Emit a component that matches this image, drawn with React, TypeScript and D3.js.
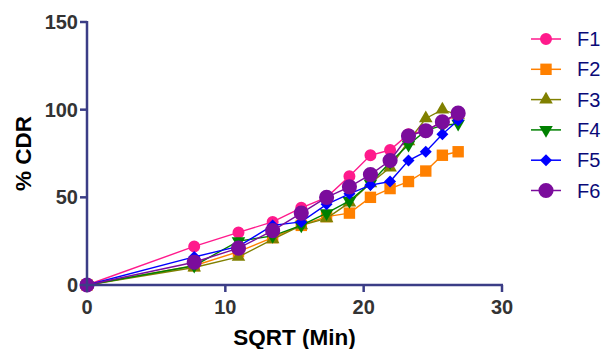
import * as d3 from 'd3'

const sqrtTime = [0, 7.75, 10.95, 13.42, 15.49, 17.32, 18.97, 20.49, 21.91, 23.24, 24.49, 25.69, 26.83]
const seriesNames = ['F1', 'F2', 'F3', 'F4', 'F5', 'F6']
const f1 = [0, 22, 30, 36, 44, 50, 62, 74, 77, 86, 88, 93, 97]
const f2 = [0, 11, 19, 27, 34, 39, 41, 50, 55, 59, 65, 74, 76]
const f3 = [0, 10, 16, 26, 34, 38, 47, 58, 67, 82, 95, 100, 97]
const f4 = [0, 11, 25, 28, 34, 41, 48, 58, 70, 80, 88, 91, 92]
const f5 = [0, 16, 22, 34, 36, 46, 52, 57, 59, 71, 76, 86, 94]
const f6 = [0, 13, 21, 31, 41, 50, 56, 63, 71, 85, 88, 93, 98]
const xTicks = [0, 10, 20, 30]
const yTicks = [0, 50, 100, 150]

const seriesValues = [f1, f2, f3, f4, f5, f6]
const colors = ['#ff1a8c', '#ff8000', '#808000', '#008000', '#0000ff', '#7b0c9c']

const width = 605
const height = 349
const margin = { top: 22, right: 103, bottom: 64, left: 87 }
const axisColor = '#3b3d86'

// marker for each series: circle, square, triangle, triangle down, diamond, big circle
const markers = [
  { type: d3.symbolCircle, size: 113, rotate: 0 },
  { type: d3.symbolSquare, size: 130, rotate: 0 },
  { type: d3.symbolTriangle, size: 80, rotate: 0 },
  { type: d3.symbolTriangle, size: 80, rotate: 180 },
  { type: d3.symbolSquare, size: 72, rotate: 45 },
  { type: d3.symbolCircle, size: 180, rotate: 0 },
]

export default function App() {
  const innerW = width - margin.left - margin.right
  const innerH = height - margin.top - margin.bottom

  const x = d3.scaleLinear().domain([0, 30]).range([margin.left, margin.left + innerW])
  const y = d3.scaleLinear().domain([0, 150]).range([margin.top + innerH, margin.top])

  const line = d3.line<number>()
    .x((_, i) => x(sqrtTime[i]))
    .y(d => y(d))

  const symbolPath = (k: number) => d3.symbol().type(markers[k].type).size(markers[k].size)() as string

  const font = 'Arial, "Liberation Sans", sans-serif'

  return (
    <svg width={width} height={height} style={{ position: 'absolute', left: 0, top: 0, background: '#fff' }}>
      {/* series */}
      {seriesValues.map((vals, k) => (
        <g key={seriesNames[k]}>
          <path d={line(vals) as string} fill="none" stroke={colors[k]} strokeWidth={1.4} />
          {vals.map((v, i) => (
            <path
              key={i}
              d={symbolPath(k)}
              transform={`translate(${x(sqrtTime[i])},${y(v)}) rotate(${markers[k].rotate})`}
              fill={colors[k]}
            />
          ))}
        </g>
      ))}

      {/* axes */}
      <g stroke={axisColor} strokeWidth={2.5} fill="none">
        <line x1={x(0)} x2={x(0)} y1={y(150) - 1} y2={y(0)} />
        <line x1={x(0)} x2={x(30) + 1} y1={y(0)} y2={y(0)} />
        {yTicks.map(t => (
          <line key={'y' + t} x1={x(0) - 7} x2={x(0)} y1={y(t)} y2={y(t)} />
        ))}
        {xTicks.map(t => (
          <line key={'x' + t} x1={x(t)} x2={x(t)} y1={y(0)} y2={y(0) + 7} />
        ))}
      </g>
      <g fontFamily={font} fontWeight="bold" fontSize={20} fill="#333">
        {yTicks.map(t => (
          <text key={'yl' + t} x={x(0) - 9} y={y(t) + 7} textAnchor="end">{t}</text>
        ))}
        {xTicks.map(t => (
          <text key={'xl' + t} x={x(t)} y={y(0) + 29} textAnchor="middle">{t}</text>
        ))}
      </g>
      <text x={(x(0) + x(30)) / 2} y={345} textAnchor="middle" fontFamily={font} fontWeight="bold" fontSize={22.5} fill="#000">SQRT (Min)</text>
      <text transform={`translate(31,${(y(0) + y(150)) / 2}) rotate(-90)`} textAnchor="middle" fontFamily={font} fontWeight="bold" fontSize={22.5} fill="#000">% CDR</text>

      {/* legend */}
      {seriesNames.map((name, k) => {
        const ly = 39 + k * 30.3
        return (
          <g key={'lg' + name}>
            <line x1={531} x2={561} y1={ly} y2={ly} stroke={colors[k]} strokeWidth={1.5} />
            <path d={symbolPath(k)} transform={`translate(546,${ly}) rotate(${markers[k].rotate})`} fill={colors[k]} />
            <text x={577} y={ly + 7} fontFamily={font} fontSize={20} fill="#0a0a78">{name}</text>
          </g>
        )
      })}
    </svg>
  )
}
